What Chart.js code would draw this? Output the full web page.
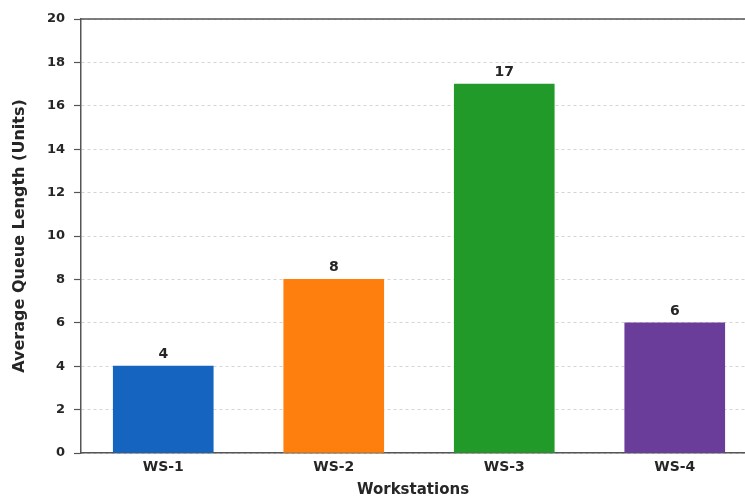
<!DOCTYPE html>
<html>
<head>
<meta charset="utf-8">
<script src="https://cdn.jsdelivr.net/npm/chart.js@4/dist/chart.umd.min.js"></script>
<style>
  html, body { margin: 0; padding: 0; background: #ffffff; overflow: hidden; }
  #wrap { position: relative; width: 745px; height: 501px; }
</style>
</head>
<body>
<div id="wrap"><canvas id="chart"></canvas></div>
<script>
// Average queue length per workstation
const categories = ['WS-1', 'WS-2', 'WS-3', 'WS-4'];
const queueLengths = [4, 8, 17, 6];
const barColors = ['#1565c0', '#ff7f0e', '#229a2a', '#6a3d9a'];
const yTicks = [0, 2, 4, 6, 8, 10, 12, 14, 16, 18, 20];

const points = categories.map((c, i) => ({ x: i, y: queueLengths[i] }));

const textFont = "'DejaVu Sans', 'Liberation Sans', sans-serif";
const textColor = '#262626';

// Value labels above each bar, plus the dark top frame line
const valueLabels = {
  id: 'valueLabels',
  afterDatasetsDraw(chart) {
    const { ctx } = chart;
    const meta = chart.getDatasetMeta(0);
    ctx.save();
    ctx.font = `bold 14px ${textFont}`;
    ctx.fillStyle = textColor;
    ctx.textAlign = 'center';
    ctx.textBaseline = 'alphabetic';
    meta.data.forEach((bar, i) => {
      ctx.fillText(String(queueLengths[i]), bar.x, bar.y - 8);
    });
    ctx.restore();
  },
  beforeDatasetsDraw(chart) {
    const { ctx, chartArea } = chart;
    ctx.save();
    ctx.strokeStyle = '#555';
    ctx.lineWidth = 1.5;
    ctx.beginPath();
    ctx.moveTo(chartArea.left, chartArea.top);
    ctx.lineTo(chartArea.right, chartArea.top);
    ctx.stroke();
    ctx.restore();
  }
};

new Chart(document.getElementById('chart'), {
  type: 'bar',
  data: {
    datasets: [{
      data: points,
      backgroundColor: barColors,
      borderWidth: 0,
      barThickness: 100
    }]
  },
  options: {
    responsive: true,
    maintainAspectRatio: false,
    animation: false,
    layout: { padding: { top: 19, right: 0, bottom: 0, left: 0 } },
    plugins: {
      legend: { display: false },
      tooltip: { enabled: false }
    },
    scales: {
      x: {
        type: 'linear',
        offset: false,
        bounds: 'data',
        min: -0.4824,
        max: 3.412,
        afterBuildTicks(scale) {
          scale.ticks = categories.map((c, i) => ({ value: i }));
        },
        afterFit(scale) { scale.height = 48; },
        ticks: {
          callback: (v) => categories[v] ?? '',
          color: textColor,
          font: { family: textFont, size: 14, weight: 'bold' },
          padding: 6,
          maxRotation: 0,
          autoSkip: false
        },
        grid: { display: false, drawTicks: false },
        border: { display: true, color: '#555', width: 1.5 },
        title: {
          display: true,
          text: 'Workstations',
          color: textColor,
          font: { family: textFont, size: 15, weight: 'bold' },
          padding: { top: 0, bottom: 2 }
        }
      },
      y: {
        min: 0,
        max: 20,
        afterBuildTicks(scale) {
          scale.ticks = yTicks.map(v => ({ value: v }));
        },
        afterFit(scale) { scale.width = 81; },
        ticks: {
          color: textColor,
          font: { family: textFont, size: 13, weight: 'bold' },
          padding: 9
        },
        grid: {
          color: '#d4d4d4',
          lineWidth: 1,
          tickColor: '#555',
          tickLength: 7,
          tickWidth: 1.2
        },
        border: { display: true, color: '#555', width: 1.5, dash: [3, 3] },
        title: {
          display: true,
          text: 'Average Queue Length (Units)',
          color: textColor,
          font: { family: textFont, size: 16, weight: 'bold' },
          padding: { top: 10, bottom: 0 }
        }
      }
    }
  },
  plugins: [valueLabels]
});
</script>
</body>
</html>
